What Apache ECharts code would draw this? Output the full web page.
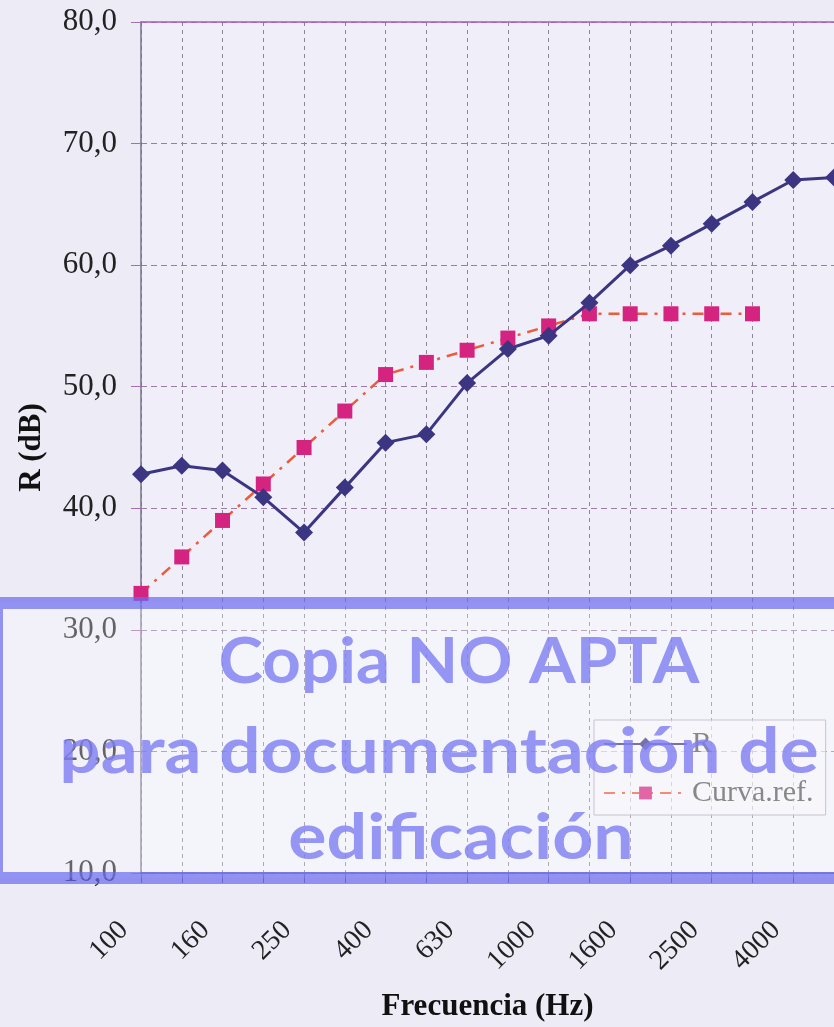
<!DOCTYPE html>
<html>
<head>
<meta charset="utf-8">
<script src="https://cdn.jsdelivr.net/npm/echarts@6/dist/echarts.min.js"></script>
<style>
html,body{margin:0;padding:0;background:#ecebf6;}
#chart{width:834px;height:1027px;}
</style>
</head>
<body>
<div id="chart"></div>
<script>
// Data
const frequencies = ['100','125','160','200','250','315','400','500','630','800','1000','1250','1600','2000','2500','3150','4000','5000'];
const rValues = [42.8, 43.5, 43.1, 40.9, 38.0, 41.7, 45.4, 46.1, 50.3, 53.1, 54.2, 56.9, 60.0, 61.6, 63.4, 65.2, 67.0, 67.2];
const refValues = [33, 36, 39, 42, 45, 48, 51, 52, 53, 54, 55, 56, 56, 56, 56, 56];
const yTicks = [10, 20, 30, 40, 50, 60, 70, 80];
const watermarkLines = ['Copia NO APTA', 'para documentación de', 'edificación'];

const serif = '"Liberation Serif", "Times New Roman", serif';
const wmFont = 'bold 64px Lato, "Open Sans", sans-serif';
const wmFill = 'rgba(125,125,242,0.8)';
const chart = echarts.init(document.getElementById('chart'), null, {renderer: 'canvas'});

const option = {
  backgroundColor: '#ecebf6',
  animation: false,
  grid: {left: 141, top: 22, width: 697, height: 854, show: true, backgroundColor: '#f0eff9', borderWidth: 0},
  xAxis: [{
    type: 'category',
    data: frequencies,
    boundaryGap: false,
    position: 'bottom',
    axisLine: {show: true, onZero: false, lineStyle: {color: '#4a3f86', width: 1.5}},
    axisTick: {show: true, alignWithLabel: true, interval: 0, length: 10, lineStyle: {color: '#6a6090'}},
    axisLabel: {interval: 1, rotate: 45, margin: 36, padding: [0, 24, 0, 0], fontFamily: serif, fontSize: 28, color: '#222'},
    splitLine: {show: true, interval: 0, lineStyle: {type: [4, 4], color: '#8e8496', width: 1}},
    name: 'Frecuencia (Hz)',
    nameLocation: 'middle',
    nameGap: 118,
    nameTextStyle: {fontFamily: serif, fontWeight: 'bold', fontSize: 31, color: '#111'}
  }, {
    type: 'category',
    data: frequencies,
    boundaryGap: false,
    position: 'top',
    axisLine: {show: true, lineStyle: {color: '#a55cc0', width: 1.5}},
    axisTick: {show: false},
    axisLabel: {show: false},
    splitLine: {show: false}
  }],
  yAxis: {
    type: 'value',
    min: yTicks[0],
    max: yTicks[yTicks.length - 1],
    interval: 10,
    axisLine: {show: true, lineStyle: {color: '#7a7088', width: 1.5}},
    axisTick: {show: true, length: 10, lineStyle: {color: '#a070b0'}},
    axisLabel: {
      margin: 24, fontFamily: serif, fontSize: 31, color: '#222',
      formatter: v => v.toFixed(1).replace('.', ',')
    },
    splitLine: {show: true, lineStyle: {type: [6, 4], color: '#9c7ca8', width: 1}},
    name: 'R (dB)',
    nameLocation: 'middle',
    nameGap: 94,
    nameTextStyle: {fontFamily: serif, fontWeight: 'bold', fontSize: 31, color: '#111'}
  },
  legend: {
    orient: 'vertical',
    left: 594,
    top: 720,
    padding: [9, 12, 7, 9],
    itemWidth: 83,
    itemHeight: 16,
    itemGap: 19,
    backgroundColor: 'rgba(247,246,252,0.55)',
    borderColor: '#b4aabd',
    borderWidth: 1,
    textStyle: {fontFamily: serif, fontSize: 30, color: '#555'},
    data: ['R', 'Curva.ref.']
  },
  series: [{
    name: 'R',
    type: 'line',
    data: rValues,
    symbol: 'diamond',
    symbolSize: 18,
    itemStyle: {color: '#3b3582'},
    lineStyle: {color: '#3b3582', width: 3},
    z: 3
  }, {
    name: 'Curva.ref.',
    type: 'line',
    data: refValues,
    symbol: 'rect',
    symbolSize: 15,
    itemStyle: {color: '#d4247f'},
    lineStyle: {color: '#ee5b3c', width: 2.5, type: [11, 7, 3, 7]},
    z: 2
  }],
  graphic: [{
    type: 'rect',
    shape: {x: -3, y: 603, width: 880, height: 275},
    style: {fill: 'rgba(255,255,255,0.3)', stroke: 'rgba(105,105,240,0.7)', lineWidth: 12},
    z: 100
  }, {
    type: 'text', x: 459, y: 662, scaleX: 1.05,
    style: {text: watermarkLines[0], font: wmFont, fill: wmFill, textAlign: 'center', textVerticalAlign: 'middle'},
    z: 101
  }, {
    type: 'text', x: 439, y: 752, scaleX: 1.14,
    style: {text: watermarkLines[1], font: wmFont, fill: wmFill, textAlign: 'center', textVerticalAlign: 'middle'},
    z: 101
  }, {
    type: 'text', x: 461, y: 838, scaleX: 1.12,
    style: {text: watermarkLines[2], font: wmFont, fill: wmFill, textAlign: 'center', textVerticalAlign: 'middle'},
    z: 101
  }]
};
chart.setOption(option);
</script>
</body>
</html>
